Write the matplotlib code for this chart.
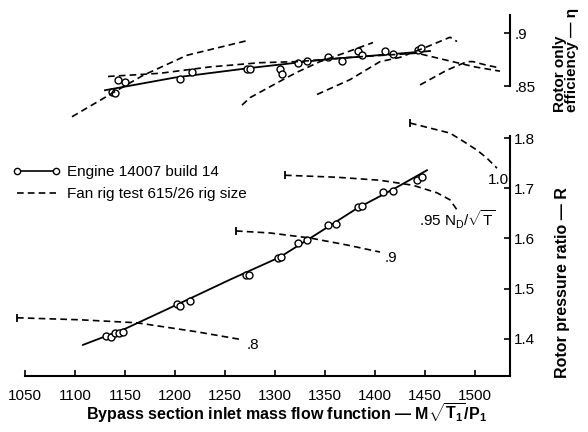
import matplotlib
matplotlib.use('Agg')
import matplotlib.pyplot as plt
from matplotlib.lines import Line2D

plt.rcParams['font.family'] = ['Liberation Sans', 'DejaVu Sans']
plt.rcParams['mathtext.fontset'] = 'custom'
plt.rcParams['mathtext.rm'] = 'Liberation Sans'
plt.rcParams['mathtext.it'] = 'Liberation Sans'
plt.rcParams['mathtext.bf'] = 'Liberation Sans:bold'

# engine 14007 build 14 - pressure ratio points
eng_flow_pr = [1131, 1136, 1140, 1144, 1148, 1202, 1205, 1215, 1271, 1274, 1303, 1306,
               1323, 1332, 1353, 1361, 1383, 1387, 1408, 1418, 1442, 1447]
eng_pr = [1.406, 1.404, 1.412, 1.412, 1.414, 1.470, 1.466, 1.476, 1.527, 1.527, 1.561, 1.563,
          1.591, 1.597, 1.627, 1.629, 1.663, 1.665, 1.693, 1.695, 1.716, 1.722]
# faired line through engine pressure points
fit_flow_pr = [1108, 1150, 1205, 1255, 1305, 1345, 1382, 1420, 1452]
fit_pr = [1.388, 1.420, 1.471, 1.518, 1.563, 1.613, 1.660, 1.700, 1.736]

# engine efficiency points
eng_flow_eff = [1137, 1140, 1143, 1150, 1205, 1217, 1272, 1275, 1305, 1307, 1323, 1332,
                1353, 1367, 1383, 1387, 1410, 1418, 1443, 1446]
eng_eff = [0.844, 0.843, 0.856, 0.854, 0.857, 0.863, 0.866, 0.866, 0.866, 0.861, 0.872, 0.874,
           0.877, 0.874, 0.883, 0.879, 0.883, 0.880, 0.884, 0.886]
fit_flow_eff = [1130, 1200, 1275, 1350, 1455]
fit_eff = [0.846, 0.858, 0.867, 0.875, 0.883]

# fan rig speed lines - pressure ratio
rig_pr = {
    '.8': ([1042, 1105, 1162, 1222, 1268], [1.442, 1.438, 1.432, 1.414, 1.398]),
    '.9': ([1261, 1295, 1335, 1372, 1405], [1.615, 1.611, 1.601, 1.587, 1.573]),
    '.95': ([1310, 1362, 1405, 1438, 1462, 1475, 1482], [1.726, 1.722, 1.716, 1.706, 1.691, 1.677, 1.657]),
    '1.0': ([1435, 1475, 1488, 1502, 1512, 1522], [1.830, 1.810, 1.794, 1.776, 1.760, 1.740]),
}
# fan rig efficiency curves
rig_eff = [
    ([1097, 1135, 1168, 1212, 1273], [0.821, 0.842, 0.860, 0.879, 0.893]),
    ([1267, 1275, 1308, 1322, 1345, 1372, 1398], [0.832, 0.839, 0.856, 0.863, 0.873, 0.882, 0.891]),
    ([1342, 1375, 1405, 1425, 1452, 1475, 1482], [0.842, 0.856, 0.873, 0.877, 0.887, 0.896, 0.892]),
    ([1445, 1472, 1492, 1498, 1510, 1525], [0.851, 0.865, 0.873, 0.873, 0.870, 0.867]),
    ([1133, 1185, 1235, 1285, 1322, 1375, 1442, 1473, 1500, 1525],
     [0.859, 0.862, 0.868, 0.872, 0.873, 0.877, 0.881, 0.874, 0.868, 0.864]),
]

# speed line labels (text, x, y)
speed_labels = [('.8', 1272, 1.388), ('.9', 1410, 1.561),
                ('.95 N$_{\\rm D}$/$\\sqrt{\\rm T}$', 1444, 1.637), ('1.0', 1534, 1.716)]

dash = (0, (4, 2.5))

fig = plt.figure(figsize=(5.88, 4.32), dpi=100)
W, H = 588, 432
ax = fig.add_axes([25 / W, (H - 376) / H, 485 / W, 266 / H])
ax2 = fig.add_axes([25 / W, (H - 130) / H, 485 / W, 120 / H], sharex=ax)
for a in (ax, ax2):
    a.set_facecolor('none')
    a.spines['left'].set_visible(False)
    a.spines['top'].set_visible(False)
    a.spines['right'].set_linewidth(1.5)
    a.spines['bottom'].set_linewidth(1.5)
    a.yaxis.tick_right()
    a.tick_params(axis='y', direction='in', length=4, width=1.2, pad=3, labelsize=11)

# lower: pressure ratio
ax.set_xlim(1050, 1535)
ax.set_ylim(1.326, 1.856)
ax.spines['right'].set_bounds(1.326, 1.805)
ax.spines['bottom'].set_bounds(1050, 1535)
ax.set_xticks(range(1050, 1501, 50))
ax.tick_params(axis='x', direction='in', length=4, width=1.2, pad=9, labelsize=11)
ax.set_yticks([1.4, 1.5, 1.6, 1.7, 1.8])
ax.set_yticklabels(['1.4', '1.5', '1.6', '1.7', '1.8'])

ax.plot(fit_flow_pr, fit_pr, color='black', lw=1.3)
ax.plot(eng_flow_pr, eng_pr, 'o', ms=5, mfc='white', mec='black', mew=1)
for key, (xs, ys) in rig_pr.items():
    ax.plot(xs, ys, color='black', lw=1.2, ls=dash, clip_on=False)
    ax.plot(xs[0], ys[0], marker='|', ms=6, mew=1.3, color='black', clip_on=False)
for txt, x, y in speed_labels:
    ha = 'right' if txt == '1.0' else 'left'
    ax.text(x, y, txt, ha=ha, va='center', fontsize=11)

# upper: efficiency
ax2.set_ylim(0.8085, 0.9217)
ax2.spines['bottom'].set_visible(False)
ax2.spines['right'].set_bounds(0.85, 0.917)
ax2.tick_params(axis='x', bottom=False, labelbottom=False)
ax2.set_yticks([0.85, 0.9])
ax2.set_yticklabels(['.85', '.9'])

ax2.plot(fit_flow_eff, fit_eff, color='black', lw=1.3)
ax2.plot(eng_flow_eff, eng_eff, 'o', ms=5, mfc='white', mec='black', mew=1)
for xs, ys in rig_eff:
    ax2.plot(xs, ys, color='black', lw=1.2, ls=dash, clip_on=False)

# legend
handles = [Line2D([], [], color='black', lw=1.2, marker='o', ms=4.5, mfc='white', mec='black'),
           Line2D([], [], color='black', lw=1.2, ls=dash)]
ax.legend(handles, ['Engine 14007 build 14', 'Fan rig test 615/26 rig size'],
          loc='upper left', bbox_to_anchor=(12 / W, 1 - 165 / H), bbox_transform=fig.transFigure,
          frameon=False, numpoints=2, handlelength=3.2, handletextpad=0.4,
          borderpad=0, borderaxespad=0, labelspacing=0.55, fontsize=11)

# axis titles
fig.text(287 / W, 1 - 413 / H,
         'Bypass section inlet mass flow function — M$\\mathbf{\\sqrt{T_1}}$/P$_\\mathbf{1}$',
         ha='center', va='center', fontsize=11.5, fontweight='bold')
fig.text(562 / W, 1 - 283 / H, 'Rotor pressure ratio — R', rotation=90,
         ha='center', va='center', fontsize=11.5, fontweight='bold')
fig.text(566 / W, 1 - 112 / H, 'Rotor only\nefficiency — η', rotation=90,
         ha='center', va='bottom', multialignment='left', fontsize=11, fontweight='bold',
         linespacing=0.9)

plt.savefig('out.png', dpi=100, facecolor='white')
